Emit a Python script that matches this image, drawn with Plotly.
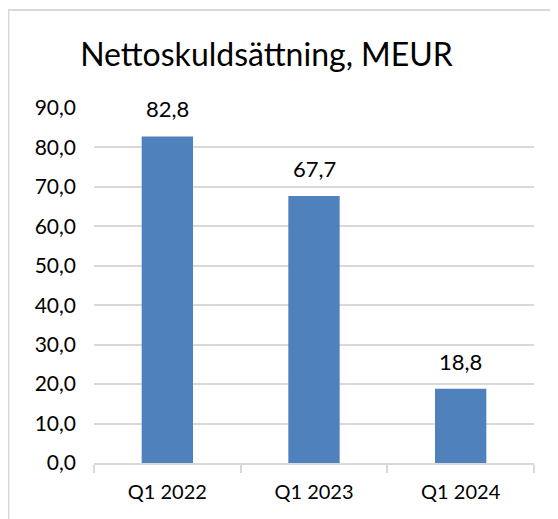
import plotly.graph_objects as go

categories = ["Q1 2022", "Q1 2023", "Q1 2024"]
values = [82.8, 67.7, 18.8]
value_labels = ["82,8", "67,7", "18,8"]
title_text = "Nettoskuldsättning, MEUR"

# page body has an 8px default margin; size the figure to fill the rest
W, H = 550, 511
L, R, T, B = 86, 24, 100, 56
pw, ph = W - L - R, H - T - B

FONT = "Lato"
BAR = "#4F81BD"
GRID = "#D9D9D9"

fig = go.Figure()
fig.add_trace(go.Bar(x=categories, y=values, marker_color=BAR, width=0.35,
                     marker_line_width=0, hoverinfo="skip"))

for c, v, t in zip(categories, values, value_labels):
    fig.add_annotation(x=c, y=v, text=t, showarrow=False, yanchor="bottom",
                       yshift=12, font=dict(family=FONT, size=22, color="#000"))

# outer frame (only top and left edges fall inside the picture)
fig.add_shape(type="rect", xref="paper", yref="paper",
              x0=(0.5 - L) / pw, x1=(W + 20 - L) / pw,
              y0=-(B + 20) / ph, y1=(H - B - 2) / ph,
              line=dict(color=GRID, width=2), layer="below")

fig.update_layout(
    width=W, height=H,
    margin=dict(l=L, r=R, t=T, b=B),
    paper_bgcolor="white", plot_bgcolor="white",
    separators=",.",
    showlegend=False,
    title=dict(text=title_text, x=(266.5 - 8) / W, xref="container", xanchor="center",
               y=1 - 47 / H, yref="container", yanchor="middle",
               font=dict(family=FONT, size=32, color="#000")),
    font=dict(family=FONT, size=20, color="#000"),
)
fig.update_xaxes(type="category", showline=True, linecolor=GRID, linewidth=2,
                 ticks="outside", tickson="boundaries", ticklen=8, tickcolor=GRID,
                 tickwidth=2, showgrid=False, tickfont=dict(family=FONT, size=20),
                 ticklabelstandoff=10)
fig.update_yaxes(range=[0, 90], dtick=10, tickformat=".1f", showgrid=True,
                 gridcolor=GRID, gridwidth=2, showline=False, zeroline=False,
                 ticks="", tickfont=dict(family=FONT, size=21), ticklabelstandoff=17)

fig.write_html("out.html")
